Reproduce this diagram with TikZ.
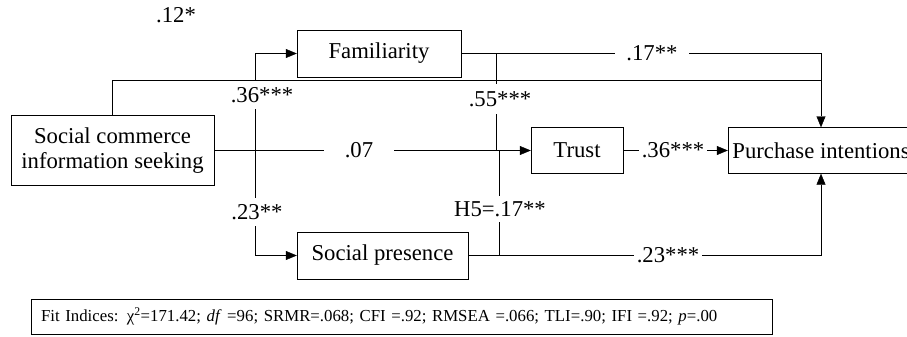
\documentclass[tikz,border=0pt]{standalone}
\usepackage{fontspec}
\setmainfont{Liberation Serif}
\usetikzlibrary{
  arrows.meta,  % Triangle tips
  calc          % Calculations $...$
}
\def\mylw{1.1pt}
\tikzset{
  font=\fontsize{22.7}{25.5}\selectfont,
  line width=\mylw,
  >={Triangle[length=11pt,width=9pt]},
  my box/.style={
    draw,
    rectangle,
    inner sep=0pt,
    align=center
  },
  my coef/.style={
    fill=white,
    inner xsep=3pt,
    inner ysep=5pt
  },
  my fit/.style={
    my box,
    font=\fontsize{16.8}{19}\selectfont,
    inner xsep=10pt,
    text width=721pt,
    minimum height=35pt,
    align=left
  }
}

\begin{document}
\begin{tikzpicture}[x=1pt,y=-1pt]
\useasboundingbox (0,0) rectangle (907,337);
\node[my box,minimum width=203pt,minimum height=70pt] (scis)  at (112.5,150.5) {Social commerce\\information seeking};
\node[my box,minimum width=164pt,minimum height=47pt] (fam)   at (379,53.5)    {Familiarity};
\node[my box,minimum width=171pt,minimum height=47pt] (sp)    at (382.5,255.5) {Social presence};
\node[my box,minimum width=92pt, minimum height=46pt] (trust) at (577,150.5)   {Trust};
\node[my box,minimum width=186pt,minimum height=46pt] (pi)    at (821,150.5)   {Purchase intentions};
\coordinate (fork) at (255,150.5);
\coordinate (h12)  at (113,80);
\coordinate (v55)  at (496,150.5);
\coordinate (v17)  at (499.5,150.5);
% paths
\draw[->] (scis.north) |- (pi.north |- h12) -- (pi.north);
\draw (fam.east) -- (fam.east -| pi.north) -- (pi.north |- h12);
\draw[->] (fork) |- (fam.west);
\draw[->] (fork) |- (sp.west);
\draw[->] (scis.east) -- (trust.west);
\draw (fam.east) -| (v55);
\draw (sp.east) -| (v17);
\draw[->] (sp.east) -| (pi.south);
\draw[->] (trust.east) -- (pi.west);
% coefficients
\node (c12) at (176,15) {.12*};
\node[my coef,inner ysep=6pt]  (c36) at (262,95)     {.36***};
\node[my coef,inner ysep=6pt]  (c23) at (257,212)    {.23**};
\node[my coef,inner xsep=21pt] (c07) at (359,150.5)  {.07};
\node[my coef,inner ysep=7pt]  (c55) at (500,99)     {.55***};
\node[my coef,inner xsep=11pt] (c17) at (652,53.5)   {.17**};
\node[my coef]                 (h5)  at (500,209)    {H5=.17**};
\node[my coef]                 (c36b) at (673,150.5) {.36***};
\node[my coef]                 (c23b) at (668,255.5) {.23***};
% fit indices
\node[my fit] (fit) at (401.5,316.5) {Fit Indices: χ\textsuperscript{2}=171.42; \textit{df} =96; SRMR=.068; CFI =.92; RMSEA =.066; TLI=.90; IFI =.92; \textit{p}=.00};
\end{tikzpicture}
\end{document}
